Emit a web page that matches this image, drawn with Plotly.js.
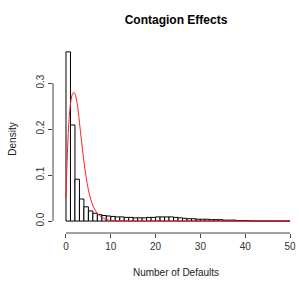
<!DOCTYPE html>
<html><head><meta charset="utf-8">
<script src="https://cdn.plot.ly/plotly-3.0.1.min.js"></script>
<style>html,body{margin:0;padding:0;background:#fff}#chart{width:299px;height:281px}</style>
</head><body><div id="chart"></div>
<script>
// Histogram bins (width 1, starting at 0)
const binStarts = Array.from({length: 50}, (_, i) => i);
const density = [0.368,0.209,0.091,0.048,0.031,0.022,0.017,0.014,0.012,0.011,
  0.010,0.009,0.009,0.008,0.008,0.007,0.007,0.007,0.008,0.008,
  0.009,0.009,0.009,0.009,0.008,0.007,0.006,0.005,0.005,0.004,
  0.004,0.004,0.003,0.003,0.003,0.002,0.002,0.002,0.001,0.001,
  0.001,0,0,0,0,0,0,0,0,0];
// Fitted density curve
const curveX = [0,0.25,0.5,0.75,1,1.25,1.5,1.75,2,2.5,3,3.5,4,4.5,5,5.5,6,6.5,7,7.5,8,8.5,9,10,11,12,15,20,30,40,50];
const curveY = [0.05,0.13,0.19,0.23,0.255,0.27,0.278,0.28,0.277,0.255,0.215,0.17,0.13,0.095,0.068,0.048,0.034,0.024,0.017,0.012,0.008,0.0055,0.0035,0.0015,0.0006,0.0002,0,0,0,0,0];
const xTicks = [0,10,20,30,40,50];
const yTicks = [0,0.1,0.2,0.3];
const yTickText = ['0.0','0.1','0.2','0.3'];

const font = 'Liberation Sans, Arial, sans-serif';
const traces = [
  {type:'bar', x: binStarts.map(b => b + 0.5), y: density, width: 1,
   marker:{color:'#ffffff', line:{color:'#000000', width:1}}, hoverinfo:'skip'},
  {type:'scatter', mode:'lines', x: curveX, y: curveY, line:{color:'#ff2020', width:1, shape:'spline'}, hoverinfo:'skip'}
];
const layout = {
  width:299, height:281, showlegend:false,
  paper_bgcolor:'#fff', plot_bgcolor:'#fff',
  margin:{l:53, r:0, t:45, b:48},
  font:{family:font, size:10, color:'#000'},
  title:{text:'<b>Contagion Effects</b>', font:{family:font, size:12, color:'#000'}, x:0.5, xref:'paper', y:0.93, yref:'container', yanchor:'middle'},
  xaxis:{range:[-2.9, 52], showgrid:false, zeroline:false, showline:false,
    tickmode:'array', tickvals:xTicks, ticktext:xTicks.map(String),
    ticks:'outside', ticklen:4, tickwidth:1, tickcolor:'#444',
    tickfont:{family:font, size:10, color:'#333'},
    title:{text:'Number of Defaults', font:{family:font, size:10, color:'#222'}, standoff:17}},
  yaxis:{range:[-0.026, 0.383], showgrid:false, zeroline:false, showline:false,
    tickmode:'array', tickvals:yTicks, ticktext:yTickText, tickangle:-90,
    ticks:'outside', ticklen:4, tickwidth:1, tickcolor:'#444',
    tickfont:{family:font, size:10, color:'#333'},
    title:{text:'Density', font:{family:font, size:10, color:'#222'}, standoff:16}},
  shapes:[
    {type:'line', xref:'x', yref:'paper', x0:0, x1:50, y0:0, y1:0, line:{color:'#444', width:1}},
    {type:'line', xref:'paper', yref:'y', x0:0, x1:0, y0:0, y1:0.3, line:{color:'#444', width:1}}
  ]
};
Plotly.newPlot('chart', traces, layout, {staticPlot:true, displayModeBar:false});
</script></body></html>
